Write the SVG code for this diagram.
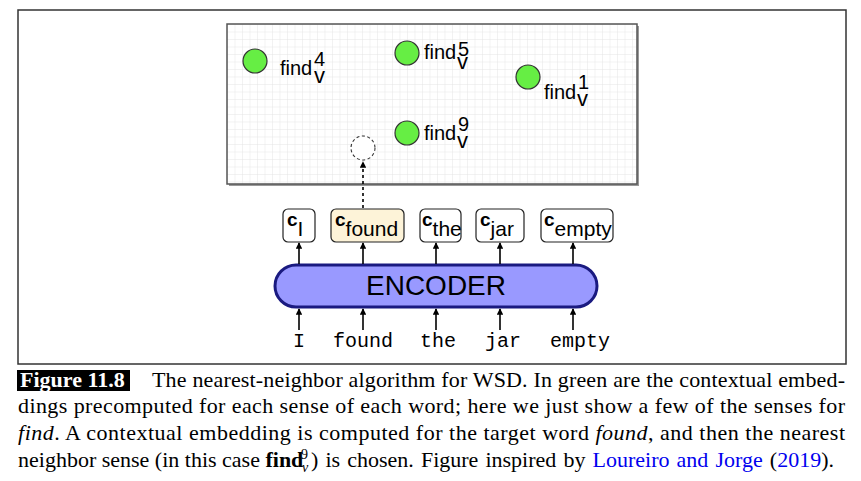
<svg xmlns="http://www.w3.org/2000/svg" width="861" height="481" viewBox="0 0 861 481">
<style>
.sans{font-family:'Liberation Sans',Arimo,Arial,sans-serif;fill:#000}
.mono{font-family:'Liberation Mono',Cousine,'Courier New',monospace;font-size:20px;fill:#000}
.serif{font-family:'Liberation Serif',Tinos,'Times New Roman',serif;font-size:22px;fill:#000}
.lbl{font-size:20px}
.sup{font-size:20px}
.sub{font-size:22px}
.emb{fill:#66EE44;stroke:#333;stroke-width:1.2}
.box{fill:#fff;stroke:#222;stroke-width:1.2}
.arr{stroke:#000;stroke-width:1.6;fill:none;marker-end:url(#ah)}
.link{fill:#0000EE}
</style>
<defs>
<marker id="ah" viewBox="0 0 10 10" refX="9" refY="5" markerWidth="4" markerHeight="4" orient="auto" markerUnits="strokeWidth">
<path d="M0,0 L10,5 L0,10 z" fill="#000"/>
</marker>
<pattern id="grid" width="7.5" height="7.5" patternUnits="userSpaceOnUse" x="227" y="24">
<path d="M7.5,0 L0,0 L0,7.5" fill="none" stroke="#e2e2e2" stroke-width="0.8"/>
</pattern>
</defs>
<rect x="0" y="0" width="861" height="481" fill="#fff"/>
<rect x="18" y="10" width="828" height="354" fill="none" stroke="#333" stroke-width="1.5"/>
<g id="panel">
<rect x="229" y="26" width="410" height="160" fill="#999"/>
<rect x="227" y="24" width="410" height="160" fill="#fff"/>
<rect x="227" y="24" width="410" height="160" fill="url(#grid)" stroke="#555" stroke-width="1.5"/>
</g>
<g id="find4">
<circle class="emb" cx="255" cy="61" r="12"/>
<text class="sans lbl" x="280" y="75">find<tspan class="sup" x="314" y="66">4</tspan><tspan class="sub" x="314" y="83">v</tspan></text>
</g>
<g id="find5">
<circle class="emb" cx="407" cy="53" r="12"/>
<text class="sans lbl" x="424" y="59">find<tspan class="sup" x="458" y="56">5</tspan><tspan class="sub" x="457" y="69">v</tspan></text>
</g>
<g id="find1">
<circle class="emb" cx="528" cy="77" r="12"/>
<text class="sans lbl" x="544" y="99">find<tspan class="sup" x="578" y="89">1</tspan><tspan class="sub" x="577" y="106">v</tspan></text>
</g>
<g id="find9">
<circle class="emb" cx="407" cy="133" r="12"/>
<text class="sans lbl" x="424" y="140">find<tspan class="sup" x="458" y="131">9</tspan><tspan class="sub" x="457" y="148">v</tspan></text>
</g>
<g id="query">
<circle cx="363" cy="148" r="12" fill="#fff" stroke="#333" stroke-width="1.1" stroke-dasharray="3,2.5"/>
</g>
<g id="cI">
<rect class="box" x="283" y="209" width="32" height="33" rx="5"/>
<text class="sans" x="287" y="226"><tspan font-weight="bold" font-size="19">c</tspan><tspan font-size="21" dy="10">I</tspan></text>
</g>
<g id="cfound">
<rect class="box" x="331" y="209" width="73" height="33" rx="5" style="fill:#FDF3D8"/>
<text class="sans" x="335" y="226"><tspan font-weight="bold" font-size="19">c</tspan><tspan font-size="21" dy="10">found</tspan></text>
</g>
<g id="cthe">
<rect class="box" x="420" y="209" width="41" height="33" rx="5"/>
<text class="sans" x="422" y="226"><tspan font-weight="bold" font-size="19">c</tspan><tspan font-size="21" dy="10">the</tspan></text>
</g>
<g id="cjar">
<rect class="box" x="476" y="209" width="48" height="33" rx="5"/>
<text class="sans" x="480" y="226"><tspan font-weight="bold" font-size="19">c</tspan><tspan font-size="21" dy="10">jar</tspan></text>
</g>
<g id="cempty">
<rect class="box" x="541" y="209" width="72" height="33" rx="5"/>
<text class="sans" x="544" y="226"><tspan font-weight="bold" font-size="19">c</tspan><tspan font-size="21" dy="10">empty</tspan></text>
</g>
<g id="encoder">
<rect x="275" y="265" width="322" height="42" rx="21" fill="#9999FF" stroke="#1A1A80" stroke-width="3"/>
<text class="sans" x="436" y="295" font-size="28" text-anchor="middle">ENCODER</text>
</g>
<g id="words">
<text class="mono" x="299" y="347" text-anchor="middle">I</text>
<text class="mono" x="363" y="347" text-anchor="middle">found</text>
<text class="mono" x="438" y="347" text-anchor="middle">the</text>
<text class="mono" x="503" y="347" text-anchor="middle">jar</text>
<text class="mono" x="580" y="347" text-anchor="middle">empty</text>
</g>
<g id="connectors">
<line class="arr" x1="299" y1="330" x2="299" y2="309"/>
<line class="arr" x1="363" y1="330" x2="363" y2="309"/>
<line class="arr" x1="436" y1="330" x2="436" y2="309"/>
<line class="arr" x1="500" y1="330" x2="500" y2="309"/>
<line class="arr" x1="573" y1="330" x2="573" y2="309"/>
<line class="arr" x1="299" y1="264" x2="299" y2="243"/>
<line class="arr" x1="363" y1="264" x2="363" y2="243"/>
<line class="arr" x1="436" y1="264" x2="436" y2="243"/>
<line class="arr" x1="500" y1="264" x2="500" y2="243"/>
<line class="arr" x1="573" y1="264" x2="573" y2="243"/>
<line class="arr" x1="363" y1="208" x2="363" y2="162" stroke-dasharray="3,3"/>
</g>
<g id="caption">
<rect x="17" y="370" width="113" height="21" fill="#000"/>
<text class="serif" x="20" y="387" font-weight="bold" style="fill:#fff">Figure 11.8</text>
<text class="serif" x="152" y="387" textLength="693" lengthAdjust="spacing">The nearest-neighbor algorithm for WSD. In green are the contextual embed-</text>
<text class="serif" x="18" y="413" textLength="827" lengthAdjust="spacing">dings precomputed for each sense of each word; here we just show a few of the senses for</text>
<text class="serif" x="18" y="440" textLength="827" lengthAdjust="spacing"><tspan font-style="italic">find</tspan>.  A contextual embedding is computed for the target word <tspan font-style="italic">found</tspan>, and then the nearest</text>
<text class="serif" x="18" y="467">neighbor sense (in this case <tspan font-weight="bold">find</tspan><tspan font-size="14" x="301" y="459">9</tspan><tspan font-size="14" font-style="italic" x="302" y="472">v</tspan><tspan x="311" y="467" word-spacing="1.6">) is chosen. Figure inspired by <tspan class="link">Loureiro and Jorge</tspan> (<tspan class="link">2019</tspan>).</tspan></text>
</g>
</svg>
